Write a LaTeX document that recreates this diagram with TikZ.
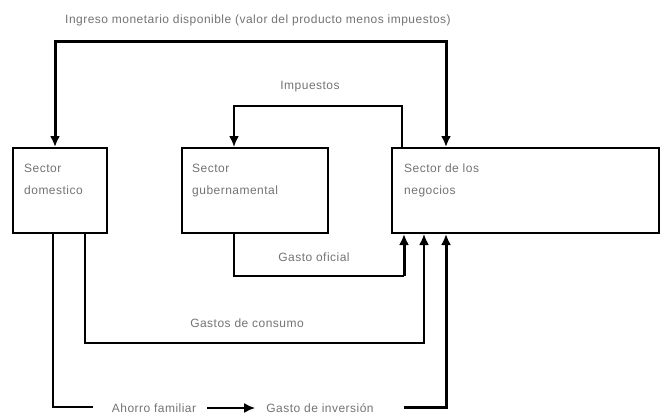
\documentclass[tikz,border=0pt]{standalone}
\usepackage{fontspec}
\newfontfamily\diafont[LetterSpace=4]{Liberation Sans}
\usetikzlibrary{positioning,arrows.meta}

\tikzset{
  >={Latex[length=11pt,width=10pt]},
  sector/.style={draw, line width=2pt, minimum height=85pt, inner sep=0pt},
  sectortext/.style={font=\diafont\fontsize{12}{22}\selectfont, text=black!55, align=left, anchor=north west, inner sep=0pt},
  flowlabel/.style={font=\diafont\fontsize{12}{14}\selectfont, text=black!55, inner sep=1pt},
  flow/.style={line width=2pt},
  bigflow/.style={line width=3pt},
}

\begin{document}
\begin{tikzpicture}[x=1pt,y=-1pt]
\useasboundingbox (0,0) rectangle (663,416);

% the three sectors
\node[sector, minimum width=94pt] (dom) at (60,190.5) {};
\node[sector, minimum width=146pt] (gov) at (255,190.5) {};
\node[sector, minimum width=267pt] (neg) at (525.5,190.5) {};
\node[sectortext, below right=17pt and 12pt of dom.north west] (domtext) {Sector\\domestico};
\node[sectortext, below right=17pt and 11pt of gov.north west] (govtext) {Sector\\gubernamental};
\node[sectortext, below right=17pt and 13pt of neg.north west] (negtext) {Sector de los\\negocios};

% bend points
\coordinate (ingL) at (55,41);
\coordinate (ingR) at (446,41);
\coordinate (impL) at (234,106);
\coordinate (impR) at (402,106);
\coordinate (ofiL) at (234,276);
\coordinate (ofiR) at (404,276);
\coordinate (conL) at (85,343);
\coordinate (conR) at (424,343);
\coordinate (ahoL) at (53,407);
\coordinate (ahoE) at (93,407);
\coordinate (invS) at (404,407);
\coordinate (invR) at (446,407);

% labels
\node[flowlabel] (ingreso) at (258,20) {Ingreso monetario disponible (valor del producto menos impuestos)};
\node[flowlabel] (impuestos) at (310,87) {Impuestos};
\node[flowlabel] (oficial) at (314,257) {Gasto oficial};
\node[flowlabel] (consumo) at (247,323) {Gastos de consumo};
\node[flowlabel] (ahorro) at (154,408) {Ahorro familiar};
\node[flowlabel] (inversion) at (320,408) {Gasto de inversión};

% flows
\draw[bigflow, <->] (ingL |- dom.north) -- (ingL) -- (ingR) -- (ingR |- neg.north);
\draw[flow, ->] (impR |- neg.north) -- (impR) -- (impL) -- (impL |- gov.north);
\draw[flow] (ofiL |- gov.south) -- (ofiL) -- (ofiR);
\draw[bigflow, ->] (ofiR) -- (ofiR |- neg.south);
\draw[flow, ->] (conL |- dom.south) -- (conL) -- (conR) -- (conR |- neg.south);
\draw[flow] (ahoL |- dom.south) -- (ahoL) -- (ahoE);
\draw[flow, ->, shorten <=10pt, shorten >=10pt] (ahorro) -- (inversion);
\draw[bigflow, ->] (invS) -- (invR) -- (invR |- neg.south);

\end{tikzpicture}
\end{document}
